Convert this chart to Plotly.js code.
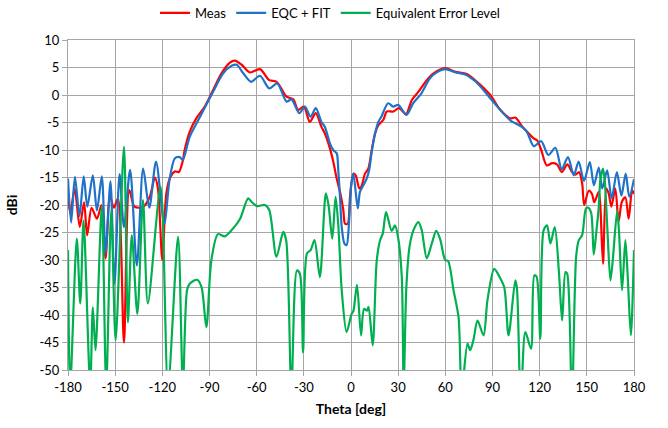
<!DOCTYPE html>
<html>
<head>
<meta charset="utf-8">
<script src="https://cdn.plot.ly/plotly-3.0.1.min.js"></script>
<style>html,body{margin:0;padding:0;background:#fff;}#chart{width:668px;height:428px;}</style>
</head>
<body>
<div id="chart"></div>
<script>
// Meas (red)
const thetaMeas = [-180,-178.5,-175.8,-172.5,-169.8,-167.8,-165,-161.6,-158.7,-156.1,-153.3,-150.8,-148.2,-144.4,-141,-137.8,-134.5,-131.9,-128,-124.7,-122.8,-120,-117.5,-115,-112,-109.5,-107,-105.8,-102.6,-98.3,-93,-87.7,-82.4,-77,-73.8,-69.6,-64.3,-57.9,-52,-47.3,-41,-36.7,-33.6,-30,-26.2,-22.4,-18.8,-16.6,-13.4,-11.3,-9.1,-7,-4.9,-3.8,-2.1,-0.6,1.5,3,5.3,6.8,8.9,11,13.2,15.3,17.4,20.6,22.7,27,30.2,32,35,38.7,42.9,48.2,52.5,59.9,66.3,73.7,80.1,88.6,94.9,101.3,104.5,108.7,112,116.2,118.5,121,124.5,128,131,134.2,137.6,140.6,142.8,145,147,148.3,151.2,153.3,154.7,157.6,158.6,160.3,162.4,163.9,165.6,168.1,170.2,172.3,174.5,176.6,178.8,180];
const meas = [-18.5,-21.5,-17,-24,-19.5,-25.5,-20.5,-22.5,-20,-29.7,-18.5,-20.5,-18.8,-45,-17.3,-20.3,-20.5,-20.3,-18.5,-15,-17,-30,-18,-15,-13.9,-14,-12,-10,-6.7,-4.2,-2.1,0.9,3.95,5.9,6.25,5.5,4.1,4.7,2.7,2.4,-0.3,-0.8,-2.7,-2.1,-4.9,-3.3,-5.8,-7,-9.7,-12.1,-15.2,-17.6,-20.9,-23.4,-23.4,-18.5,-14.3,-14.6,-17,-16.5,-14.3,-13.4,-10,-7,-5.5,-4.5,-3,-3,-2.4,-2.7,-3.5,-0.9,0.6,2.7,3.95,4.9,4.2,3.8,2.4,0,-2.7,-4.25,-4.1,-5.65,-6.7,-7.9,-8.3,-10,-12.8,-12.4,-12.6,-14,-12.6,-14,-14.5,-14,-16,-20,-17.4,-18,-19.5,-17.6,-20.3,-30.7,-17,-17.9,-20.3,-17,-23,-19.4,-18.6,-22.5,-17.3,-18];

// EQC + FIT (blue)
const thetaFit = [-180,-178,-175.6,-172.7,-170,-167.7,-164.2,-161.6,-158.5,-156.1,-153,-150.4,-147.2,-144.4,-140.5,-136.2,-132.2,-128.3,-124,-118.8,-115.3,-112,-109,-107,-102.6,-96,-87.7,-81.3,-76,-72.7,-68.5,-63.6,-57.9,-52,-46.9,-41,-37.8,-32.9,-29.3,-25.7,-22.4,-18.8,-16.6,-13.4,-11.3,-9.1,-8.1,-7,-5.9,-4.2,-2.8,-1.3,0,1.5,4.3,5.7,7.9,10,11.5,13.2,15.3,17.4,19.3,23.6,26.8,30,35.3,39.5,44.8,50.1,55,59.7,66.7,73,79.4,86.9,88.6,94.9,101.3,108.7,111.9,116.2,121,125.5,130,134,138,141.7,144.8,148.2,151.9,154.5,157.6,159.8,162.9,165.8,169.1,172,174.7,177,180];
const fit = [-15.2,-23.2,-14.9,-22,-14.8,-20.3,-14.6,-21,-14.8,-28.8,-15.7,-34.3,-14.4,-24,-13.6,-31,-13.4,-20.5,-12.1,-23.4,-15.2,-11.5,-11.3,-11.8,-7.6,-3.95,0.6,3.95,5.3,5.5,3.95,2.4,3.5,1.2,2.1,-1.2,-0.8,-3.3,-2.1,-3.95,-2.4,-4.9,-5.8,-8.8,-10,-10.6,-13.7,-18.5,-24,-27,-27.3,-23.4,-16.7,-14.3,-20.6,-17.6,-16.4,-15.2,-13.7,-10.3,-7,-4.9,-3.95,-1.5,-2.1,-1.8,-3.6,-1.5,0.3,3,4.2,4.7,4.1,3.7,2.4,0,-0.6,-2.7,-4.6,-5.8,-6.7,-9.3,-8.4,-10.9,-9.6,-13.5,-11.3,-14.6,-12.1,-15.6,-12.2,-16.4,-13.2,-17,-13.7,-18.8,-14,-18.3,-14.3,-18.5,-15.3];

// Equivalent Error Level (green)
const thetaErr = [-180,-178.6,-174.4,-172.2,-170.1,-165.9,-164.2,-162.5,-158.5,-155.7,-152.5,-149.7,-144.4,-141.9,-139.4,-135.9,-132.3,-129.2,-121.1,-116.4,-110,-106.9,-104.3,-102.6,-97.9,-95.1,-92,-88.8,-84.6,-80.3,-76,-70.7,-65.4,-63,-59.7,-54.8,-52,-47.4,-43.1,-41.2,-37.9,-34.4,-32.5,-30.5,-28,-25.7,-23.2,-19.8,-16,-14.3,-11.9,-9.8,-8,-5.9,-2.8,0.4,1.5,3.8,6.4,8.3,10.2,11.2,13.8,16.4,18.5,20.2,22.3,25.9,28,30,32.3,33.5,35.2,37.2,39.7,42.9,45,48.2,51.4,54.2,56.7,59.9,61.8,65.2,68.4,70.4,74.1,75.8,77.9,80.5,84.3,86.8,91.1,94.5,97.5,100.2,104.5,105.5,108,110.9,114.5,116.6,118,120.4,122.5,124.7,126.8,129.6,132.2,134.3,136.4,137.5,140.5,143.2,144.9,147,149.5,151,152.8,154.4,156,157.6,158.6,160.3,161.5,163,165,166.5,169.3,170.5,172.4,174.5,176,178,180];
const err = [-28.2,-53,-26.1,-37.9,-22.8,-53,-38.6,-46.4,-20.3,-53,-21,-44.6,-9.4,-41.3,-25.5,-39.8,-19.1,-37.9,-16.7,-53,-25.8,-53,-35.5,-34.3,-33.6,-34.9,-42.2,-30,-25.3,-25.7,-24.6,-22.6,-18.8,-19.5,-20.2,-20,-20.9,-29.4,-24.9,-26.5,-54,-31.9,-32.5,-46.8,-28.8,-28.2,-26.4,-33.1,-17.9,-20,-26.1,-18.5,-24,-35.5,-43.1,-39.8,-39.3,-34.5,-43.7,-38.9,-39.2,-38.5,-45.5,-30,-26.4,-25.2,-21.3,-24.7,-23.7,-26,-33.1,-53,-35,-27.6,-24.6,-23.1,-24.6,-29.7,-27,-24.7,-26.2,-30,-30.2,-35.5,-40.4,-54,-45.2,-46.4,-44.5,-41,-43.7,-37.3,-31.6,-33.1,-35,-43.7,-33.7,-35,-56,-43.1,-46.1,-32.8,-33,-44.3,-24.6,-23.7,-27,-24,-32,-41,-32.2,-32.5,-56,-29.4,-26.4,-25.5,-20.6,-20.5,-21.5,-29,-25,-20.3,-15.5,-13.4,-16,-24,-33.7,-30,-21,-25,-35.5,-26.4,-33,-43.7,-28.2];

const xTicks = [-180,-150,-120,-90,-60,-30,0,30,60,90,120,150,180];
const yTicks = [10,5,0,-5,-10,-15,-20,-25,-30,-35,-40,-45,-50];

const FONT = "Lato, 'Liberation Sans', sans-serif";
const GRID = '#a6a6a6';

const traces = [
  {x: thetaMeas, y: meas, name: 'Meas', type: 'scatter', mode: 'lines',
   line: {color: '#ff0000', width: 2.2, shape: 'spline', smoothing: 0.8}},
  {x: thetaFit, y: fit, name: 'EQC + FIT', type: 'scatter', mode: 'lines',
   line: {color: '#1f72c8', width: 2.2, shape: 'spline', smoothing: 0.8}},
  {x: thetaErr, y: err, name: 'Equivalent Error Level', type: 'scatter', mode: 'lines',
   line: {color: '#00b050', width: 2.2, shape: 'spline', smoothing: 0.8}}
];

const layout = {
  width: 668, height: 428,
  margin: {l: 68, r: 34, t: 40, b: 58},
  paper_bgcolor: '#ffffff', plot_bgcolor: '#ffffff',
  font: {family: FONT, size: 13, color: '#000'},
  showlegend: true,
  legend: {orientation: 'h', xref: 'container', yref: 'container', x: 0.494, xanchor: 'center',
           y: 0.97, yanchor: 'middle', font: {family: FONT, size: 13, color: '#000'},
           itemwidth: 30, tracegroupgap: 0},
  xaxis: {range: [-180, 180], tickvals: xTicks, ticktext: xTicks.map(String),
          showgrid: true, gridcolor: GRID, gridwidth: 1, zeroline: false,
          showline: true, linecolor: GRID, linewidth: 1, mirror: true,
          ticks: 'outside', ticklen: 5, tickcolor: GRID,
          tickfont: {family: FONT, size: 13, color: '#000'},
          title: {text: '<b>Theta [deg]</b>', font: {family: FONT, size: 14, color: '#000'}, standoff: 10}},
  yaxis: {range: [-50, 10], tickvals: yTicks, ticktext: yTicks.map(String),
          showgrid: true, gridcolor: GRID, gridwidth: 1, zeroline: false,
          showline: true, linecolor: GRID, linewidth: 1, mirror: true,
          ticks: 'outside', ticklen: 5, tickcolor: GRID,
          tickfont: {family: FONT, size: 13, color: '#000'},
          title: {text: '<b>dBi</b>', font: {family: FONT, size: 14, color: '#000'}, standoff: 18}}
};

Plotly.newPlot('chart', traces, layout, {staticPlot: true, displayModeBar: false});
</script>
</body>
</html>
